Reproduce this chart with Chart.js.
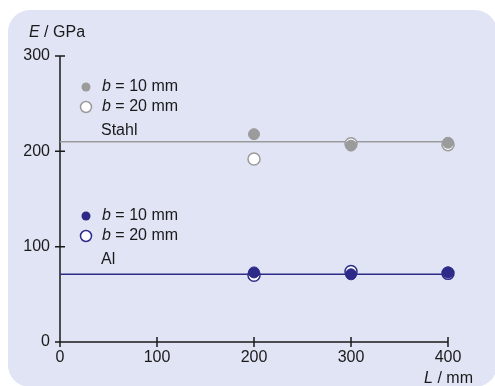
<!DOCTYPE html>
<html>
<head>
<meta charset="utf-8">
<script src="https://cdn.jsdelivr.net/npm/chart.js@4"></script>
<style>
  body { margin: 0; background: #fff; }
  canvas { display: block; }
</style>
</head>
<body>
<canvas id="modulusChart" width="495" height="386"></canvas>
<script>
// Young's modulus vs. specimen length
const lengths = [200, 300, 400];
const steelB10 = [218, 206, 209];
const steelB20 = [192, 208, 207];
const alB10 = [73, 71, 73];
const alB20 = [70, 74, 72];
const steelMean = 210;
const alMean = 71;
const xTicks = [0, 100, 200, 300, 400];
const yTicks = [0, 100, 200, 300];

const GREY = '#9b9b9b';
const NAVY = '#2e2b88';
const FONT = '"Liberation Sans", Arial, sans-serif';
const SIZE = '16px ';

function toPoints(values) {
    return lengths.map((l, i) => ({ x: l, y: values[i] }));
}

function meanLine(value) {
    return [{ x: xTicks[0], y: value }, { x: xTicks[xTicks.length - 1], y: value }];
}

// rounded background panel
const panelPlugin = {
    id: 'panel',
    beforeDraw(chart) {
        const ctx = chart.ctx;
        ctx.save();
        ctx.fillStyle = '#e0e4f5';
        ctx.beginPath();
        ctx.roundRect(8, 10, 489, 377, 22);
        ctx.fill();
        ctx.restore();
    }
};

// axis lines with crossing ticks, tick labels and axis titles
const axesPlugin = {
    id: 'axes',
    beforeDatasetsDraw(chart) {
        const ctx = chart.ctx;
        const xs = chart.scales.x;
        const ys = chart.scales.y;
        const x0 = xs.getPixelForValue(0);
        const y0 = ys.getPixelForValue(0);
        ctx.save();
        ctx.strokeStyle = '#1a1a1a';
        ctx.lineWidth = 1.5;
        ctx.beginPath();
        ctx.moveTo(x0, ys.getPixelForValue(yTicks[yTicks.length - 1]));
        ctx.lineTo(x0, y0);
        ctx.lineTo(xs.getPixelForValue(xTicks[xTicks.length - 1]), y0);
        yTicks.forEach(v => {
            const y = ys.getPixelForValue(v);
            ctx.moveTo(x0 - 5, y);
            ctx.lineTo(x0 + 5, y);
        });
        xTicks.forEach(v => {
            const x = xs.getPixelForValue(v);
            ctx.moveTo(x, y0 - 5);
            ctx.lineTo(x, y0 + 5);
        });
        ctx.stroke();

        ctx.fillStyle = '#1a1a1a';
        ctx.font = SIZE + FONT;
        ctx.textAlign = 'right';
        ctx.textBaseline = 'middle';
        yTicks.forEach(v => ctx.fillText(String(v), x0 - 10, ys.getPixelForValue(v)));
        ctx.textAlign = 'center';
        ctx.textBaseline = 'top';
        xTicks.forEach(v => ctx.fillText(String(v), xs.getPixelForValue(v), y0 + 8));

        drawMixed(ctx, [['E', true], [' / GPa', false]], 29, 33, 'left');
        drawMixed(ctx, [['L', true], [' / mm', false]], 473, 379, 'right');
        ctx.restore();
    }
};

// text runs with some italic parts
function drawMixed(ctx, parts, x, y, align) {
    ctx.textBaseline = 'middle';
    ctx.textAlign = 'left';
    let total = 0;
    parts.forEach(([t, it]) => {
        ctx.font = (it ? 'italic ' : '') + SIZE + FONT;
        total += ctx.measureText(t).width;
    });
    let cx = align === 'right' ? x - total : x;
    parts.forEach(([t, it]) => {
        ctx.font = (it ? 'italic ' : '') + SIZE + FONT;
        ctx.fillText(t, cx, y);
        cx += ctx.measureText(t).width;
    });
}

// two legend blocks, one per material
const legendPlugin = {
    id: 'materialLegend',
    afterDraw(chart) {
        const ctx = chart.ctx;
        const blocks = [
            { color: GREY, top: 87, name: 'Stahl' },
            { color: NAVY, top: 216, name: 'Al' }
        ];
        ctx.save();
        blocks.forEach(b => {
            ctx.beginPath();
            ctx.arc(86, b.top, 4.5, 0, Math.PI * 2);
            ctx.fillStyle = b.color;
            ctx.fill();
            ctx.beginPath();
            ctx.arc(86, b.top + 20, 5.5, 0, Math.PI * 2);
            ctx.fillStyle = '#fff';
            ctx.fill();
            ctx.lineWidth = 1.5;
            ctx.strokeStyle = b.color;
            ctx.stroke();
            ctx.fillStyle = '#1a1a1a';
            drawMixed(ctx, [['b', true], [' = 10 mm', false]], 102, b.top, 'left');
            drawMixed(ctx, [['b', true], [' = 20 mm', false]], 102, b.top + 20, 'left');
            ctx.font = SIZE + FONT;
            ctx.fillText(b.name, 101, b.top + 44);
        });
        ctx.restore();
    }
};

function filledSet(data, color) {
    return {
        data: toPoints(data), order: 1, clip: false, showLine: false,
        pointRadius: 5.5, pointBorderWidth: 1,
        pointBackgroundColor: color, pointBorderColor: color
    };
}

function openSet(data, color) {
    return {
        data: toPoints(data), order: 2, clip: false, showLine: false,
        pointRadius: 6, pointBorderWidth: 1.5,
        pointBackgroundColor: '#fff', pointBorderColor: color
    };
}

function lineSet(value, color) {
    return {
        data: meanLine(value), order: 3, clip: false, showLine: true,
        borderColor: color, borderWidth: 1.5, pointRadius: 0
    };
}

new Chart(document.getElementById('modulusChart'), {
    type: 'scatter',
    data: {
        datasets: [
            lineSet(steelMean, GREY),
            lineSet(alMean, NAVY),
            openSet(steelB20, GREY),
            openSet(alB20, NAVY),
            filledSet(steelB10, GREY),
            filledSet(alB10, NAVY)
        ]
    },
    options: {
        responsive: false,
        animation: false,
        layout: { padding: { left: 60, right: 47, top: 56, bottom: 44 } },
        scales: {
            x: { type: 'linear', min: 0, max: 400, display: false },
            y: { type: 'linear', min: 0, max: 300, display: false }
        },
        plugins: {
            legend: { display: false },
            tooltip: { enabled: false }
        }
    },
    plugins: [panelPlugin, axesPlugin, legendPlugin]
});
</script>
</body>
</html>
